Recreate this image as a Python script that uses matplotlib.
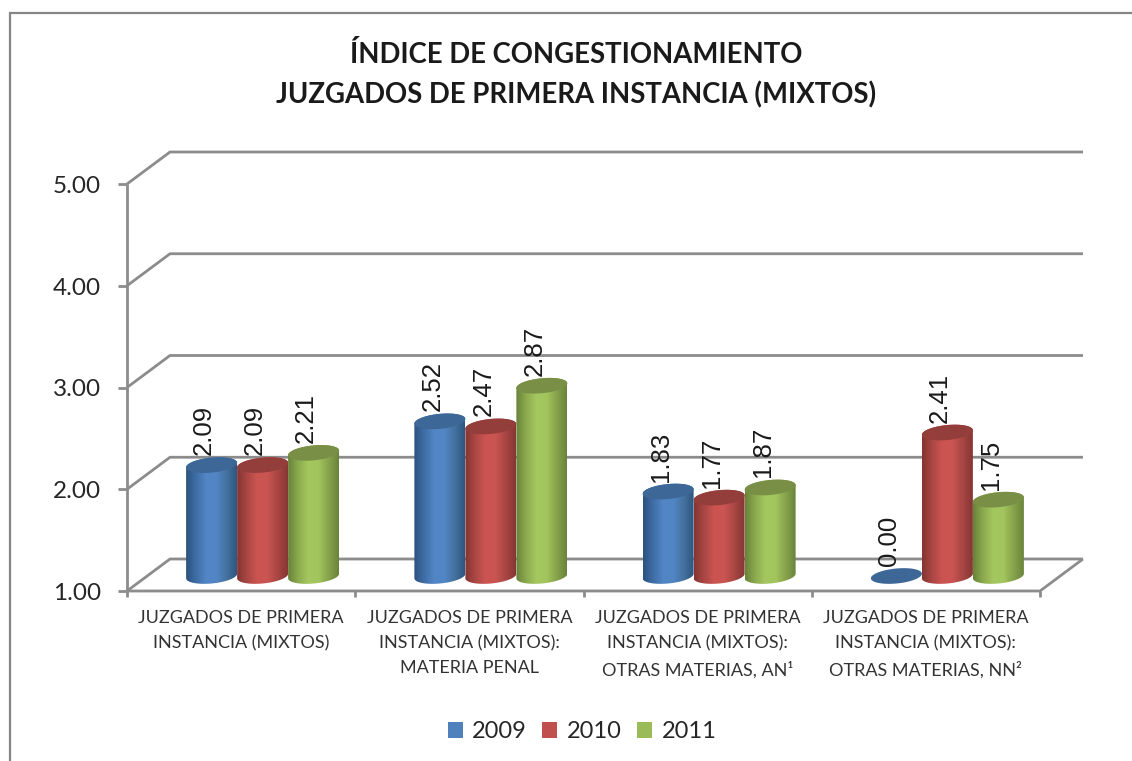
import numpy as np
import matplotlib
matplotlib.use("Agg")
import matplotlib.pyplot as plt
from matplotlib.patches import Patch, Polygon, Rectangle
from matplotlib.colors import LinearSegmentedColormap

years = ["2009", "2010", "2011"]
categories = [
    "JUZGADOS DE PRIMERA\nINSTANCIA (MIXTOS)",
    "JUZGADOS DE PRIMERA\nINSTANCIA (MIXTOS):\nMATERIA PENAL",
    "JUZGADOS DE PRIMERA\nINSTANCIA (MIXTOS):\nOTRAS MATERIAS, AN\u00b9",
    "JUZGADOS DE PRIMERA\nINSTANCIA (MIXTOS):\nOTRAS MATERIAS, NN\u00b2",
]
values_2009 = [2.09, 2.52, 1.83, 0.00]
values_2010 = [2.09, 2.47, 1.77, 2.41]
values_2011 = [2.21, 2.87, 1.87, 1.75]
yticks = [1, 2, 3, 4, 5]
title = "ÍNDICE DE CONGESTIONAMIENTO\nJUZGADOS DE PRIMERA INSTANCIA (MIXTOS)"

W, H = 1132, 761
fig = plt.figure(figsize=(W / 100, H / 100), dpi=100, facecolor="white")
L, R, T, B = 127, 1040, 184, 591
ax = fig.add_axes([L / W, 1 - B / H, (R - L) / W, (B - T) / H])
ax.set_xlim(0, 4)
ax.set_ylim(1, 5)
ax.axis("off")
px = 4 / (R - L)
py = 4 / (B - T)

GRID = "#8c8c8c"
dx, dy = 43 * px, 32 * py
kw = dict(color=GRID, lw=2.0, clip_on=False, zorder=1, solid_capstyle="butt", solid_joinstyle="miter")
for v in yticks:
    ax.plot([0, dx, 4 + dx], [v, v + dy, v + dy], **kw)
    ax.plot([-9 * px, 0], [v, v], **kw)
ax.plot([0, 0], [1, 5], **kw)
ax.plot([0, 4, 4 + dx], [1, 1, 1 + dy], **kw)
for i in range(5):
    ax.plot([i, i], [1, 1 - 6 * py], **kw)

FONT = "Lato"
for v in yticks:
    ax.text(-26 * px, v - 2.5 * py, f"{v:.2f}", ha="right", va="center", fontsize=17.5, color="#262626",
            family=FONT, clip_on=False)

for i, c in enumerate(categories):
    ax.text(i + 0.5, 1 - 19 * py, c, ha="center", va="top", fontsize=13, color="#333333",
            family=FONT, linespacing=1.68, clip_on=False)

fig.text(576 / W, 1 - 75 / H, title, ha="center", va="center", fontsize=19.8, fontweight="bold",
         family=FONT, color="#1a1a1a", linespacing=1.6)

styles = [
    ("#4f81bd", ["#2c527f", "#3f6ea6", "#5386c6", "#5285c4", "#44729f", "#2f5680"], "#3c6797"),
    ("#c0504d", ["#843533", "#ab4744", "#cc5552", "#ca5451", "#a84643", "#853634"], "#943e3c"),
    ("#9bbb59", ["#68823a", "#8cab4f", "#a5c75f", "#a3c55d", "#86a34c", "#6a843b"], "#788f45"),
]
series = [values_2009, values_2010, values_2011]
bw = 51 * px
base = 1 + 15 * py
b = 7.5 * py
slope = 0.09 * (py / px)
t = np.linspace(0, 2 * np.pi, 120)


def top_curve(xc, yc, tt):
    return xc + bw / 2 * np.cos(tt), yc + b * np.sin(tt) - slope * (-bw / 2) * np.cos(tt)


for s, (vals, (col, grad, topc)) in enumerate(zip(series, styles)):
    cmap = LinearSegmentedColormap.from_list(f"c{s}", grad)
    for i, v in enumerate(vals):
        xc = i + 0.5 + dx / 2 + (s - 1) * bw
        z = 3 + s
        vv = max(v, 1)
        yc = base + (vv - 1)
        if v > 1:
            tb = np.linspace(np.pi, 2 * np.pi, 50)
            xb, yb = top_curve(xc, base, tb)
            tu = np.linspace(0, np.pi, 50)
            xu, yu = top_curve(xc, yc, tu)
            poly = Polygon(np.column_stack([np.r_[xb, xu], np.r_[yb, yu]]), closed=True,
                           transform=ax.transData, fc="none", ec="none")
            ax.add_patch(poly)
            im = ax.imshow(np.linspace(0, 1, 128)[None, :], cmap=cmap, aspect="auto",
                           extent=[xc - bw / 2, xc + bw / 2, base - 2 * b, yc + 2 * b], zorder=z, clip_on=True)
            im.set_clip_path(poly)
        xt, yt = top_curve(xc, yc, t)
        ax.add_patch(Polygon(np.column_stack([xt, yt]), closed=True, fc=topc, ec="none", zorder=z + 0.5, clip_on=False))
        ax.text(xc - 7.5 * px, yc + 10 * py, f"{v:.2f}", rotation=90, ha="center", va="bottom",
                fontsize=18.5, color="#1a1a1a", family="Liberation Sans", zorder=10, clip_on=False)

ax.set_xlim(0, 4)
ax.set_ylim(1, 5)

handles = [Patch(fc=st[0], ec="none", label=y) for st, y in zip(styles, years)]
fig.legend(handles=handles, loc="center", bbox_to_anchor=(582 / W, 1 - 731.5 / H), ncol=3, frameon=False,
           prop={"family": FONT, "size": 17}, handlelength=0.64, handleheight=0.64, handletextpad=0.4,
           columnspacing=0.65, labelcolor="#262626")

fig.add_artist(Rectangle((9.5 / W, -0.1), 2, 1.1 - 12.5 / H, transform=fig.transFigure, fc="none", ec="#868686", lw=1.6))

fig.savefig("out.png", dpi=100)
